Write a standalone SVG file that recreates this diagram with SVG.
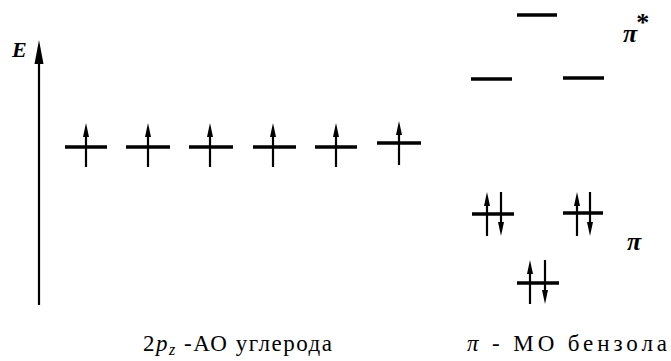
<svg xmlns="http://www.w3.org/2000/svg" width="671" height="361" viewBox="0 0 671 361">
<style>
.lvl{stroke:#000;stroke-width:3.5;fill:none}
.stem{stroke:#000;stroke-width:2.2;fill:none}
.head{fill:#000}
.t{font-family:"Liberation Serif","Times New Roman",serif;fill:#000}
</style>
<defs>
<g id="up"><path class="stem" d="M0,8 V44"/><path class="head" d="M-3,14 L0,0 L3,14 Z"/></g>
<g id="dn"><path class="stem" d="M0,0 V36"/><path class="head" d="M-3,30 L0,44 L3,30 Z"/></g>
</defs>
<rect width="671" height="361" fill="#fff"/>
<g id="axis">
<path class="stem" d="M39,305 V55"/>
<path class="head" d="M34.5,64 L39,40 L43.5,64 Z"/>
<text class="t" x="12" y="57" font-size="22" font-style="italic" font-weight="bold">E</text>
</g>
<g id="ao">
<g id="ao1"><path class="lvl" d="M65,147 H107"/><use href="#up" x="86" y="123"/></g>
<g id="ao2"><path class="lvl" d="M126,147 H170"/><use href="#up" x="148" y="123"/></g>
<g id="ao3"><path class="lvl" d="M189,147 H233"/><use href="#up" x="210" y="123"/></g>
<g id="ao4"><path class="lvl" d="M253,147 H296"/><use href="#up" x="273" y="123"/></g>
<g id="ao5"><path class="lvl" d="M315,147 H357"/><use href="#up" x="336" y="123"/></g>
<g id="ao6"><path class="lvl" d="M377,143 H421"/><use href="#up" x="399" y="121"/></g>
</g>
<g id="pistar">
<path class="lvl" d="M517,15 H557"/>
<path class="lvl" d="M471,79 H512"/>
<path class="lvl" d="M563,78 H604"/>
<text class="t" x="623" y="42" font-size="26" font-style="italic" font-weight="bold">π<tspan font-style="normal" dx="-1" dy="-11">*</tspan></text>
</g>
<g id="pi">
<g id="pi1"><path class="lvl" d="M472,214 H514"/><use href="#up" x="487" y="192"/><use href="#dn" x="501" y="192"/></g>
<g id="pi2"><path class="lvl" d="M563,213 H603"/><use href="#up" x="577" y="192"/><use href="#dn" x="590" y="192"/></g>
<g id="pi3"><path class="lvl" d="M517,283 H559"/><use href="#up" x="530" y="260"/><use href="#dn" x="545" y="260"/></g>
<text class="t" x="627" y="250" font-size="26" font-style="italic" font-weight="bold">π</text>
</g>
<g id="labels">
<text class="t" x="143" y="351" font-size="23" textLength="189" lengthAdjust="spacing">2<tspan font-style="italic">p</tspan><tspan font-style="italic" font-size="16" dy="4">z</tspan><tspan dy="-4"> -АО углерода</tspan></text>
<text class="t" x="467" y="351" font-size="23" textLength="200" lengthAdjust="spacing"><tspan font-style="italic">π</tspan> - МО бензола</text>
</g>
</svg>
